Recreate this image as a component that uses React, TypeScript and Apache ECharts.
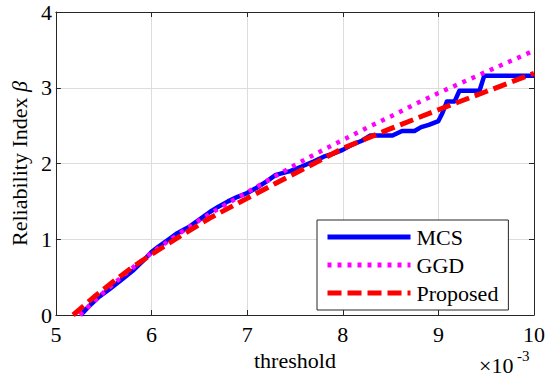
import React, { useEffect, useRef } from "react";
import * as echarts from "echarts";

const mcsX = [5.26, 5.35, 5.45, 5.55, 5.62, 5.7, 5.8, 5.9, 6.0, 6.07, 6.17, 6.27, 6.4, 6.5, 6.61, 6.7, 6.8, 6.9, 7.0, 7.1, 7.2, 7.3, 7.45, 7.57, 7.7, 7.8, 7.9, 8.0, 8.1, 8.2, 8.29, 8.52, 8.62, 8.75, 8.82, 8.9, 9.0, 9.04, 9.09, 9.17, 9.22, 9.43, 9.48, 10];
const mcsY = [0, 0.12, 0.24, 0.33, 0.4, 0.48, 0.58, 0.7, 0.83, 0.9, 0.99, 1.08, 1.17, 1.26, 1.36, 1.43, 1.5, 1.56, 1.61, 1.68, 1.76, 1.85, 1.9, 1.96, 2.03, 2.09, 2.13, 2.18, 2.25, 2.3, 2.37, 2.37, 2.43, 2.43, 2.48, 2.51, 2.56, 2.66, 2.82, 2.82, 2.96, 2.96, 3.16, 3.16];

const ggdX = [5.25, 5.5, 5.75, 6, 6.25, 6.5, 6.75, 7, 7.25, 7.5, 7.75, 8, 8.25, 8.5, 8.75, 9, 9.25, 9.5, 9.75, 10];
const ggdY = [0, 0.3, 0.57, 0.82, 1.04, 1.25, 1.44, 1.62, 1.8, 1.98, 2.15, 2.31, 2.47, 2.62, 2.78, 2.93, 3.07, 3.21, 3.35, 3.49];

const propX = [5.18, 5.4, 5.62, 5.8, 6, 6.3, 6.61, 7, 7.3, 7.7, 8, 8.5, 9, 9.5, 10];
const propY = [0, 0.24, 0.46, 0.63, 0.8, 1.04, 1.28, 1.54, 1.74, 2.0, 2.2, 2.46, 2.71, 2.95, 3.19];

const seriesNames = ["MCS", "GGD", "Proposed"];
const xTickMin = 5;
const xTickMax = 10;
const yTickMin = 0;
const yTickMax = 4;

const FONT = "Times New Roman, Liberation Serif, serif";
const FS = 22;
const AXIS_COLOR = "#262626";

const zip = (xs: number[], ys: number[]) => xs.map((x, i) => [x, ys[i]]);

export default function App() {
  const ref = useRef<HTMLDivElement>(null);
  useEffect(() => {
    if (!ref.current) return;
    const chart = echarts.init(ref.current, null, { renderer: "svg" });
    const baseAxis = {
      type: "value" as const,
      axisLine: { show: true, onZero: false, lineStyle: { color: AXIS_COLOR, width: 1 } },
      axisTick: { show: true, inside: true, length: 5, lineStyle: { color: AXIS_COLOR } },
    };
    chart.setOption({
      animation: false,
      backgroundColor: "#ffffff",
      textStyle: { fontFamily: FONT },
      grid: { left: 46, top: 12, width: 488, height: 303, containLabel: false },
      xAxis: [
        {
          ...baseAxis,
          min: xTickMin,
          max: xTickMax,
          interval: 1,
          position: "bottom",
          axisLabel: { fontFamily: FONT, fontSize: FS, color: "#000", margin: 8 },
          splitLine: { show: true, lineStyle: { color: "#dcdcdc", width: 1 } },
          name: "threshold",
          nameLocation: "middle",
          nameGap: 33,
          nameTextStyle: { fontFamily: FONT, fontSize: FS, color: "#000" },
        },
        {
          ...baseAxis,
          min: xTickMin,
          max: xTickMax,
          interval: 1,
          position: "top",
          axisLabel: { show: false },
          splitLine: { show: false },
        },
      ],
      yAxis: [
        {
          ...baseAxis,
          min: yTickMin,
          max: yTickMax,
          interval: 1,
          position: "left",
          axisLabel: { fontFamily: FONT, fontSize: FS, color: "#000", margin: 4 },
          splitLine: { show: true, lineStyle: { color: "#dcdcdc", width: 1 } },
          name: "Reliability Index {b|β}",
          nameLocation: "middle",
          nameGap: 20,
          nameTextStyle: {
            fontFamily: FONT,
            fontSize: FS,
            color: "#000",
            rich: { b: { fontFamily: FONT, fontSize: FS, fontStyle: "italic", color: "#000" } },
          },
        },
        {
          ...baseAxis,
          min: yTickMin,
          max: yTickMax,
          interval: 1,
          position: "right",
          axisLabel: { show: false },
          splitLine: { show: false },
        },
      ],
      legend: {
        orient: "vertical",
        left: 317,
        top: 220,
        padding: [6, 10, 6, 8],
        itemGap: 6,
        itemWidth: 83,
        itemHeight: 14,
        backgroundColor: "#ffffff",
        borderColor: AXIS_COLOR,
        borderWidth: 1,
        borderRadius: 0,
        itemStyle: { opacity: 0 },
        lineStyle: { width: 5 },
        textStyle: { fontFamily: FONT, fontSize: FS, color: "#000", padding: [0, 0, 0, 1] },
        data: seriesNames,
      },
      series: [
        {
          name: seriesNames[0],
          type: "line",
          data: zip(mcsX, mcsY),
          symbol: "none",
          lineStyle: { color: "#0000ff", width: 4.5, join: "round" },
          itemStyle: { color: "#0000ff" },
          z: 2,
        },
        {
          name: seriesNames[1],
          type: "line",
          data: zip(ggdX, ggdY),
          symbol: "none",
          lineStyle: { color: "#ff00ff", width: 4.5, type: [4, 6] },
          itemStyle: { color: "#ff00ff" },
          z: 3,
        },
        {
          name: seriesNames[2],
          type: "line",
          data: zip(propX, propY),
          symbol: "none",
          lineStyle: { color: "#ff0000", width: 5, type: [14, 6] },
          itemStyle: { color: "#ff0000" },
          z: 4,
        },
      ],
      graphic: [
        {
          type: "text",
          left: 479,
          top: 354,
          style: { text: "×10", fontFamily: FONT, fontSize: FS, fill: "#000" },
        },
        {
          type: "text",
          left: 517,
          top: 348,
          style: { text: "-3", fontFamily: FONT, fontSize: 15, fill: "#000" },
        },
      ],
    });
    return () => chart.dispose();
  }, []);
  return <div ref={ref} style={{ width: 550, height: 378, position: "absolute", left: 0, top: 0 }} />;
}
